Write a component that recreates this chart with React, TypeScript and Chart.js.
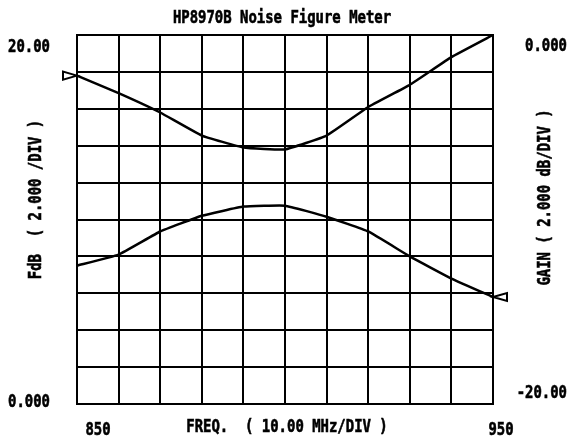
import React, { useEffect, useRef } from "react";
import { Chart, registerables } from "chart.js";

Chart.register(...registerables);

const freqs = [850, 860, 870, 880, 890, 900, 910, 920, 930, 940, 950];
const noiseFigure = [17.8, 16.85, 15.8, 14.55, 13.9, 13.8, 14.55, 16.1, 17.3, 18.8, 20.0];
const gain = [-12.5, -11.9, -10.65, -9.8, -9.3, -9.25, -9.85, -10.65, -12.0, -13.2, -14.2];

const leftTickValues = [20, 0];
const leftTickLabels = ["20.00", "0.000"];
const rightTickValues = [0, -20];
const rightTickLabels = ["0.000", "-20.00"];
const xTickValues = [850, 950];
const xTickLabels = ["850", "950"];

const titleText = "HP8970B Noise Figure Meter";
const xTitleText = "FREQ.  ( 10.00 MHz/DIV )";
const yTitleText = "FdB  ( 2.000 /DIV )";
const y1TitleText = "GAIN ( 2.000 dB/DIV )";

const FONT = "bold 17px 'DejaVu Sans Mono'";
const SX = 0.82;

function drawText(ctx: CanvasRenderingContext2D, text: string, x: number, y: number, align: CanvasTextAlign, rot = 0) {
  ctx.save();
  ctx.translate(x, y);
  if (rot) ctx.rotate(rot);
  ctx.scale(SX, 1);
  ctx.font = FONT;
  ctx.fillStyle = "#000";
  ctx.strokeStyle = "#000";
  ctx.lineWidth = 0.6;
  ctx.textAlign = align;
  ctx.textBaseline = "middle";
  ctx.fillText(text, 0, 0);
  ctx.strokeText(text, 0, 0);
  ctx.restore();
}

const plotterPlugin = {
  id: "plotter",
  afterDraw(chart: any) {
    const ctx: CanvasRenderingContext2D = chart.ctx;
    const { left, right, top, bottom } = chart.chartArea;
    const xs = chart.scales.x;
    const ys = chart.scales.y;
    const y1 = chart.scales.y1;

    drawText(ctx, titleText, (left + right) / 2 - 3, top - 16, "center");

    leftTickValues.forEach((v, i) => {
      const py = ys.getPixelForValue(v);
      drawText(ctx, leftTickLabels[i], left - 27, py + (i === 0 ? 13 : -1), "right");
    });
    rightTickValues.forEach((v, i) => {
      const py = y1.getPixelForValue(v);
      drawText(ctx, rightTickLabels[i], right + 74, py + (i === 0 ? 12 : -10), "right");
    });
    xTickValues.forEach((v, i) => {
      const px = xs.getPixelForValue(v);
      drawText(ctx, xTickLabels[i], px + (i === 0 ? 21 : 8), bottom + 27, "center");
    });
    drawText(ctx, xTitleText, 287, bottom + 24, "center");
    drawText(ctx, yTitleText, left - 40, (top + bottom) / 2 - 20, "center", -Math.PI / 2);
    drawText(ctx, y1TitleText, right + 53, (top + bottom) / 2 - 22, "center", -Math.PI / 2);

    const m0 = chart.getDatasetMeta(0).data[0];
    const m1d = chart.getDatasetMeta(1).data;
    const m1 = m1d[m1d.length - 1];
    ctx.save();
    ctx.strokeStyle = "#000";
    ctx.lineWidth = 2;
    ctx.lineJoin = "miter";
    if (m0) {
      ctx.beginPath();
      ctx.moveTo(m0.x, m0.y);
      ctx.lineTo(m0.x - 14, m0.y - 4);
      ctx.lineTo(m0.x - 14, m0.y + 4);
      ctx.closePath();
      ctx.stroke();
    }
    if (m1) {
      ctx.beginPath();
      ctx.moveTo(m1.x, m1.y);
      ctx.lineTo(m1.x + 14, m1.y - 4);
      ctx.lineTo(m1.x + 14, m1.y + 4);
      ctx.closePath();
      ctx.stroke();
    }
    ctx.restore();
  },
};

export default function App() {
  const ref = useRef<HTMLCanvasElement | null>(null);
  useEffect(() => {
    if (!ref.current) return;
    const chart = new Chart(ref.current, {
      type: "line",
      data: {
        datasets: [
          {
            label: "FdB",
            data: freqs.map((f, i) => ({ x: f, y: noiseFigure[i] })),
            yAxisID: "y",
            borderColor: "#000",
            borderWidth: 2.5,
            pointRadius: 0,
            tension: 0.1,
            clip: false as any,
          },
          {
            label: "GAIN",
            data: freqs.map((f, i) => ({ x: f, y: gain[i] })),
            yAxisID: "y1",
            borderColor: "#000",
            borderWidth: 2.5,
            pointRadius: 0,
            tension: 0.1,
            clip: false as any,
          },
        ],
      },
      options: {
        responsive: false,
        animation: false,
        devicePixelRatio: 1,
        layout: { padding: { left: 77, right: 75, top: 35, bottom: 33 } },
        plugins: { legend: { display: false }, tooltip: { enabled: false }, title: { display: false } },
        scales: {
          x: {
            type: "linear",
            min: 850,
            max: 950,
            ticks: { display: false, stepSize: 10 },
            grid: { color: "#000", lineWidth: 2, drawTicks: false },
            border: { display: true, color: "#000", width: 2 },
          },
          y: {
            type: "linear",
            position: "left",
            min: 0,
            max: 20,
            ticks: { display: false, stepSize: 2 },
            grid: { color: "#000", lineWidth: 2, drawTicks: false },
            border: { display: true, color: "#000", width: 2 },
          },
          y1: {
            type: "linear",
            position: "right",
            min: -20,
            max: 0,
            ticks: { display: false, stepSize: 2 },
            grid: { display: false, drawTicks: false },
            border: { display: true, color: "#000", width: 2 },
          },
        },
      },
      plugins: [plotterPlugin],
    });
    return () => chart.destroy();
  }, []);
  return (
    <div style={{ position: "absolute", left: 0, top: 0, width: 568, height: 437, background: "#fff" }}>
      <canvas ref={ref} width={568} height={437} style={{ display: "block" }} />
    </div>
  );
}
